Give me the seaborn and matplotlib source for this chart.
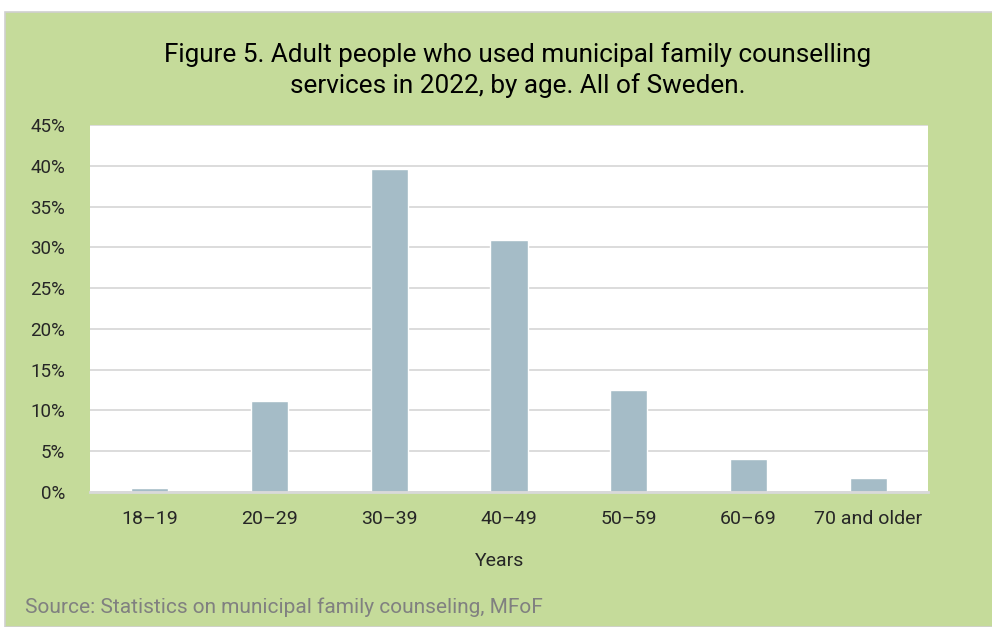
import matplotlib
matplotlib.use("Agg")
import matplotlib.pyplot as plt
import matplotlib.patches as mpatches
import seaborn as sns
import pandas as pd

# data
age_groups = ["18\u201319", "20\u201329", "30\u201339", "40\u201349", "50\u201359", "60\u201369", "70 and older"]
share_pct = [0.5, 11.1, 39.6, 30.9, 12.5, 4.0, 1.7]
y_ticks = [0, 5, 10, 15, 20, 25, 30, 35, 40, 45]

title_txt = "Figure 5. Adult people who used municipal family counselling\nservices in 2022, by age. All of Sweden."
source_txt = "Source: Statistics on municipal family counseling, MFoF"

green = "#C5DB9A"
bar_col = "#A5BCC7"
grid_col = "#D9D9D9"

sns.set_style("white")
plt.rcParams['font.family'] = ['Roboto', 'DejaVu Sans']

W, H = 992, 627
fig = plt.figure(figsize=(W / 100, H / 100), dpi=100)
fig.patch.set_facecolor("white")
# green chart frame
fig.patches.append(mpatches.Rectangle((5 / W, 0), 1.0, 1 - 12 / H, transform=fig.transFigure,
                                      facecolor=green, edgecolor="#D0D0D0", lw=1.2, zorder=-5))

ax = fig.add_axes([90 / W, 1 - 492 / H, (928 - 90) / W, (492 - 125) / H])
ax.set_zorder(2)
ax.set_facecolor("white")

df = pd.DataFrame({"age": age_groups, "share": share_pct})
sns.barplot(data=df, x="age", y="share", color=bar_col, width=0.31, saturation=1, ax=ax, zorder=3)

ax.set_ylim(0, 45)
ax.set_yticks(y_ticks)
ax.set_yticklabels([f"{t}%" for t in y_ticks], fontsize=13.5, color="#262626")
ax.tick_params(axis="x", labelsize=14, colors="#262626", length=0, pad=13)
ax.tick_params(axis="y", length=0, pad=18)
ax.grid(axis="y", color=grid_col, lw=1.3, zorder=0)
ax.set_axisbelow(True)
for s in ["left", "right", "top"]:
    ax.spines[s].set_visible(False)
ax.spines["bottom"].set_color(grid_col)
ax.spines["bottom"].set_linewidth(2)
ax.spines["bottom"].set_zorder(4)
ax.set_ylabel("")
ax.set_xlabel("Years", fontsize=14, color="#262626")
ax.xaxis.set_label_coords(0.489, -0.164)

fig.text(518 / W, 1 - 70 / H, title_txt, ha="center", va="center", fontsize=18.8,
         color="black", linespacing=1.3)
fig.text(25 / W, 1 - 607 / H, source_txt, ha="left", va="center", fontsize=15, color="#808080")

fig.savefig("out.png", dpi=100)
